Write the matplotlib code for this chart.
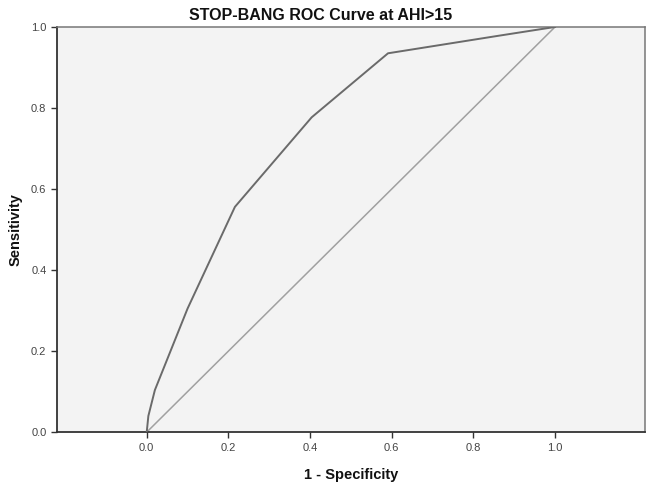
import matplotlib
matplotlib.use('Agg')
import matplotlib.pyplot as plt

# ROC curve points
fpr = [0.0, 0.004, 0.02, 0.10, 0.216, 0.404, 0.591, 0.86, 1.0]
tpr = [0.0, 0.04, 0.104, 0.305, 0.556, 0.777, 0.935, 0.978, 1.0]
ref_line = [0.0, 1.0]
ticks = [0.0, 0.2, 0.4, 0.6, 0.8, 1.0]
tick_labels = ['0.0', '0.2', '0.4', '0.6', '0.8', '1.0']

plt.rcParams['font.family'] = ['Liberation Sans', 'DejaVu Sans']

fig = plt.figure(figsize=(6.54, 4.90), dpi=100)
ax = fig.add_axes([0.087, 0.118, 0.899, 0.827])
ax.set_facecolor('#f3f3f3')

ax.plot(ref_line, ref_line, color='#a0a0a0', lw=1.1, zorder=2)
ax.plot(fpr, tpr, color='#6a6a6a', lw=1.4, zorder=3)

ax.set_xlim(-0.22, 1.22)
ax.set_ylim(0, 1)
ax.set_xticks(ticks)
ax.set_xticklabels(tick_labels)
ax.set_yticks(ticks)
ax.set_yticklabels(tick_labels)
ax.tick_params(axis='both', direction='out', length=4, width=1, colors='#333333',
               labelsize=8, labelcolor='#444444')

for side in ['left', 'bottom']:
    ax.spines[side].set_color('#333333')
    ax.spines[side].set_linewidth(1.3)
for side in ['top', 'right']:
    ax.spines[side].set_color('#777777')
    ax.spines[side].set_linewidth(1.1)

# title sits a bit left of the axes centre in the original
fig.text(0.49, 0.969, 'STOP-BANG ROC Curve at AHI>15', fontsize=11.5, fontweight='bold',
         ha='center', va='center', color='#111111')
ax.set_xlabel('1 - Specificity', fontsize=10.5, fontweight='bold', labelpad=11, color='#111111')
ax.set_ylabel('Sensitivity', fontsize=10.5, fontweight='bold', labelpad=6, color='#111111')

fig.savefig('out.png', dpi=100)
